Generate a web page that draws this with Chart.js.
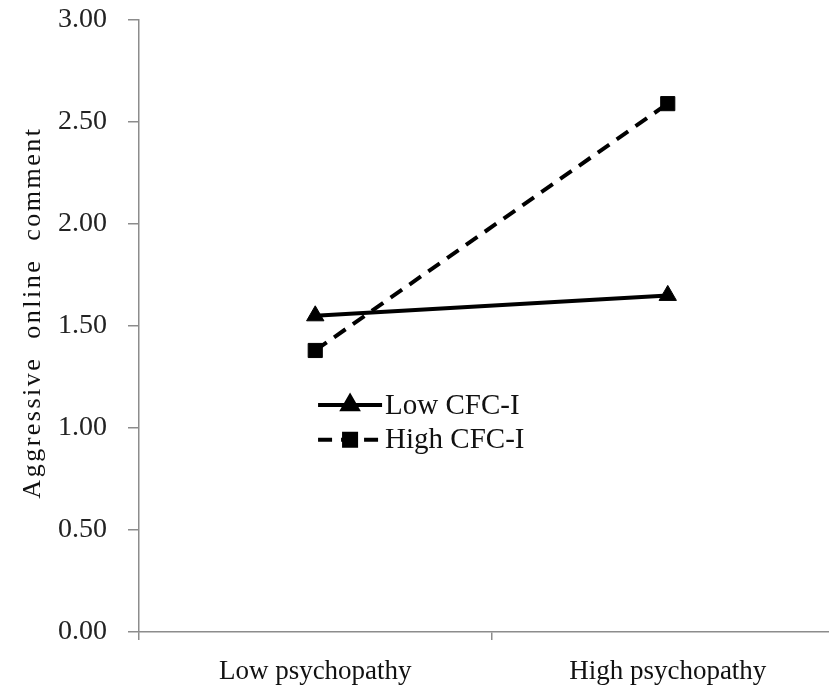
<!DOCTYPE html>
<html>
<head>
<meta charset="utf-8">
<script src="https://cdn.jsdelivr.net/npm/chart.js@4"></script>
<style>
  html, body { margin: 0; padding: 0; background: #fff; overflow: hidden; }
  #wrap { width: 829px; height: 692px; overflow: hidden; }
</style>
</head>
<body>
<div id="wrap"><canvas id="chart" width="855" height="692"></canvas></div>
<script>
// Данные графика
const categories = ["Low psychopathy", "High psychopathy"];
const lowCfcValues = [1.55, 1.65];
const highCfcValues = [1.38, 2.59];
const seriesNames = ["Low CFC-I", "High CFC-I"];
const yTicks = [0, 0.5, 1, 1.5, 2, 2.5, 3];
const yTitle = "Aggressive\u00a0\u00a0online\u00a0\u00a0comment";

const FONT = "'Liberation Serif', 'Times New Roman', serif";
const AXIS_GREY = "#8c8c8c";

// Подпись оси Y с разрядкой букв, как в оригинале
const yTitlePlugin = {
  id: "yTitle",
  afterDraw(chart) {
    const { ctx, chartArea } = chart;
    ctx.save();
    ctx.translate(33, chartArea.top + 0.478 * (chartArea.bottom - chartArea.top));
    ctx.rotate(-Math.PI / 2);
    ctx.font = "26px " + FONT;
    ctx.letterSpacing = "2.5px";
    ctx.fillStyle = "#111";
    ctx.textAlign = "center";
    ctx.textBaseline = "middle";
    ctx.fillText(yTitle, 0, 0);
    ctx.restore();
  }
};

// Легенда внутри области графика
const insideLegend = {
  id: "insideLegend",
  afterDatasetsDraw(chart) {
    const { ctx, chartArea } = chart;
    const x0 = chartArea.left + 0.254 * (chartArea.right - chartArea.left);
    const rows = [0.629, 0.686];
    chart.data.datasets.forEach((ds, i) => {
      const y = chartArea.top + rows[i] * (chartArea.bottom - chartArea.top);
      ctx.save();
      ctx.strokeStyle = ds.borderColor;
      ctx.lineWidth = ds.borderWidth;
      ctx.setLineDash(ds.borderDash || []);
      ctx.beginPath();
      ctx.moveTo(x0, y);
      ctx.lineTo(x0 + 64, y);
      ctx.stroke();
      ctx.setLineDash([]);
      Chart.helpers.drawPoint(ctx, {
        pointStyle: ds.pointStyle,
        radius: ds.pointRadius * 0.85,
        borderWidth: 1
      }, x0 + 32, y);
      ctx.fillStyle = "#111";
      ctx.font = "29px " + FONT;
      ctx.textBaseline = "middle";
      ctx.fillText(ds.label, x0 + 67, y + 1);
      ctx.restore();
    });
  }
};

new Chart(document.getElementById("chart"), {
  type: "line",
  data: {
    labels: categories,
    datasets: [
      {
        label: seriesNames[0],
        data: lowCfcValues,
        borderColor: "#000",
        backgroundColor: "#000",
        borderWidth: 4,
        pointStyle: "triangle",
        pointRadius: 10,
        pointBorderWidth: 1,
        pointBackgroundColor: "#000",
        pointBorderColor: "#000",
        tension: 0,
      },
      {
        label: seriesNames[1],
        data: highCfcValues,
        borderColor: "#000",
        backgroundColor: "#000",
        borderWidth: 4,
        borderDash: [14, 9],
        pointStyle: "rect",
        pointRadius: 10,
        pointBorderWidth: 1,
        pointBackgroundColor: "#000",
        pointBorderColor: "#000",
        tension: 0,
      },
    ],
  },
  options: {
    responsive: false,
    animation: false,
    layout: { padding: { top: 20, right: 2, left: 0, bottom: 0 } },
    plugins: {
      legend: { display: false },
      tooltip: { enabled: false },
    },
    scales: {
      x: {
        type: "category",
        offset: true,
        afterFit(scale) { scale.height = 60; },
        grid: {
          offset: true,
          drawOnChartArea: false,
          drawTicks: true,
          tickLength: 8,
          color: AXIS_GREY,
          lineWidth: 1.5,
        },
        border: { color: AXIS_GREY, width: 1.5 },
        ticks: {
          color: "#111",
          padding: 16,
          maxRotation: 0,
          font: { family: FONT, size: 27 },
        },
      },
      y: {
        min: 0,
        max: 3,
        afterFit(scale) {
          scale.width = 139;
          scale.paddingTop = 0;
          scale.paddingBottom = 0;
        },
        afterBuildTicks(scale) {
          scale.ticks = yTicks.map((v) => ({ value: v }));
        },
        grid: {
          drawOnChartArea: false,
          drawTicks: true,
          tickLength: 11,
          color: AXIS_GREY,
          lineWidth: 1.5,
        },
        border: { color: AXIS_GREY, width: 1.5 },
        ticks: {
          color: "#222",
          padding: 21,
          font: { family: FONT, size: 28 },
          callback: (v) => Number(v).toFixed(2),
        },
      },
    },
  },
  plugins: [insideLegend, yTitlePlugin],
});
</script>
</body>
</html>
